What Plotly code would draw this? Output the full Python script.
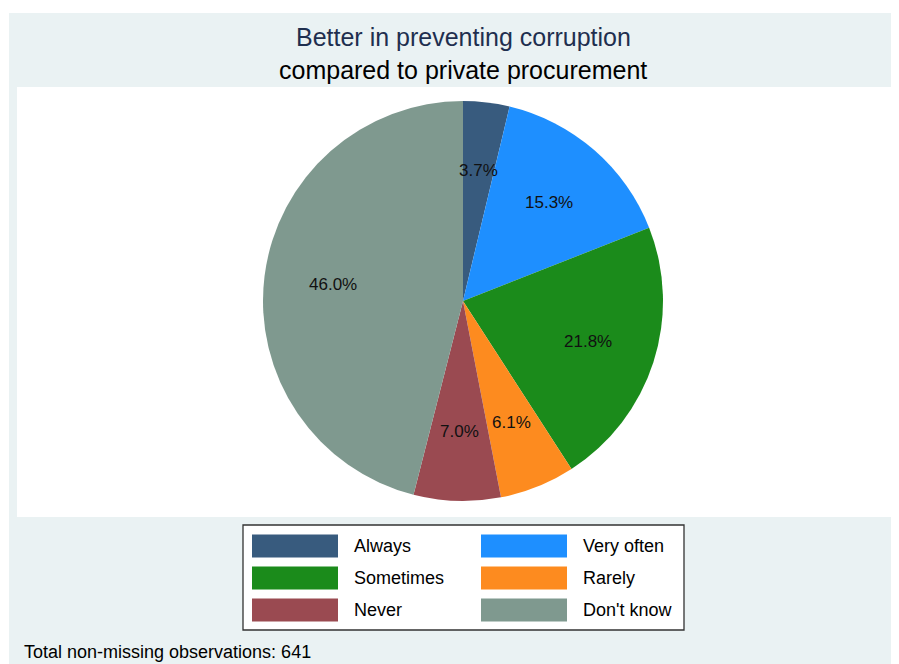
import math
import plotly.graph_objects as go

# page body has an 8px margin, so the figure is sized to fill the rest of the window
W, H = 891, 656
OFF = 8

categories = ["Always", "Very often", "Sometimes", "Rarely", "Never", "Don't know"]
counts = [24, 98, 140, 39, 45, 295]
pct_labels = ["3.7%", "15.3%", "21.8%", "6.1%", "7.0%", "46.0%"]
colors = ["#385b7e", "#1e8fff", "#1b8b1b", "#fd8b1f", "#9a4a51", "#7f998f"]
n_obs = 641


def px_x(x):
    # screen pixel -> paper fraction
    return (x - OFF) / W


def px_y(y):
    return 1 - (y - OFF) / H


# pie geometry (screen pixels)
cx, cy, R = 463, 301, 200

fig = go.Figure()
fig.add_trace(go.Pie(
    labels=categories,
    values=counts,
    marker=dict(colors=colors, line=dict(width=0)),
    sort=False,
    direction="clockwise",
    rotation=0,
    textinfo="none",
    showlegend=False,
    hoverinfo="label+percent",
    domain=dict(x=[px_x(cx - R), px_x(cx + R)], y=[px_y(cy + R), px_y(cy - R)]),
))

shapes = [
    # outer stata-like background
    dict(type="rect", xref="paper", yref="paper", x0=px_x(9), x1=1, y0=0, y1=px_y(13),
         fillcolor="#eaf2f3", line=dict(width=0), layer="below"),
    # plot region
    dict(type="rect", xref="paper", yref="paper", x0=px_x(17), x1=px_x(897), y0=px_y(517), y1=px_y(87),
         fillcolor="white", line=dict(width=0), layer="below"),
    # legend box
    dict(type="rect", xref="paper", yref="paper", x0=px_x(243), x1=px_x(684), y0=px_y(630), y1=px_y(525),
         fillcolor="white", line=dict(color="#333333", width=1.3), layer="below"),
]


def note(text, x, y, size, color="#000000", xanchor="center"):
    return dict(text=text, x=px_x(x), y=px_y(y), xref="paper", yref="paper",
                xanchor=xanchor, yanchor="middle", showarrow=False,
                font=dict(size=size, color=color))


annotations = [
    note("Better in preventing corruption", 463, 37, 25, "#1f2f4f"),
    note("compared to private procurement", 463, 70, 25),
    note("Total non-missing observations: %d" % n_obs, 22, 652, 18, xanchor="left"),
]

# slice labels at a fixed radius on each slice's mid angle
total = sum(counts)
cum = 0
for v, lab in zip(counts, pct_labels):
    theta = 2 * math.pi * (cum + v / 2) / total
    cum += v
    lx = cx + 0.655 * R * math.sin(theta)
    ly = cy - 0.655 * R * math.cos(theta)
    annotations.append(note(lab, lx, ly, 17, "#111111"))

# legend, two columns, row-major
col_x = [252, 481]
row_y = [546, 578, 610]
for i, (cat, col) in enumerate(zip(categories, colors)):
    x0 = col_x[i % 2]
    yc = row_y[i // 2]
    shapes.append(dict(type="rect", xref="paper", yref="paper", x0=px_x(x0), x1=px_x(x0 + 86),
                       y0=px_y(yc + 11.5), y1=px_y(yc - 11.5), fillcolor=col, line=dict(width=0)))
    annotations.append(note(cat, x0 + 100, yc, 18, xanchor="left"))

fig.update_layout(
    width=W,
    height=H,
    margin=dict(l=0, r=0, t=0, b=0),
    paper_bgcolor="white",
    plot_bgcolor="white",
    font=dict(family="Liberation Sans, Arial, sans-serif"),
    shapes=shapes,
    annotations=annotations,
)

fig.write_html("out.html")
